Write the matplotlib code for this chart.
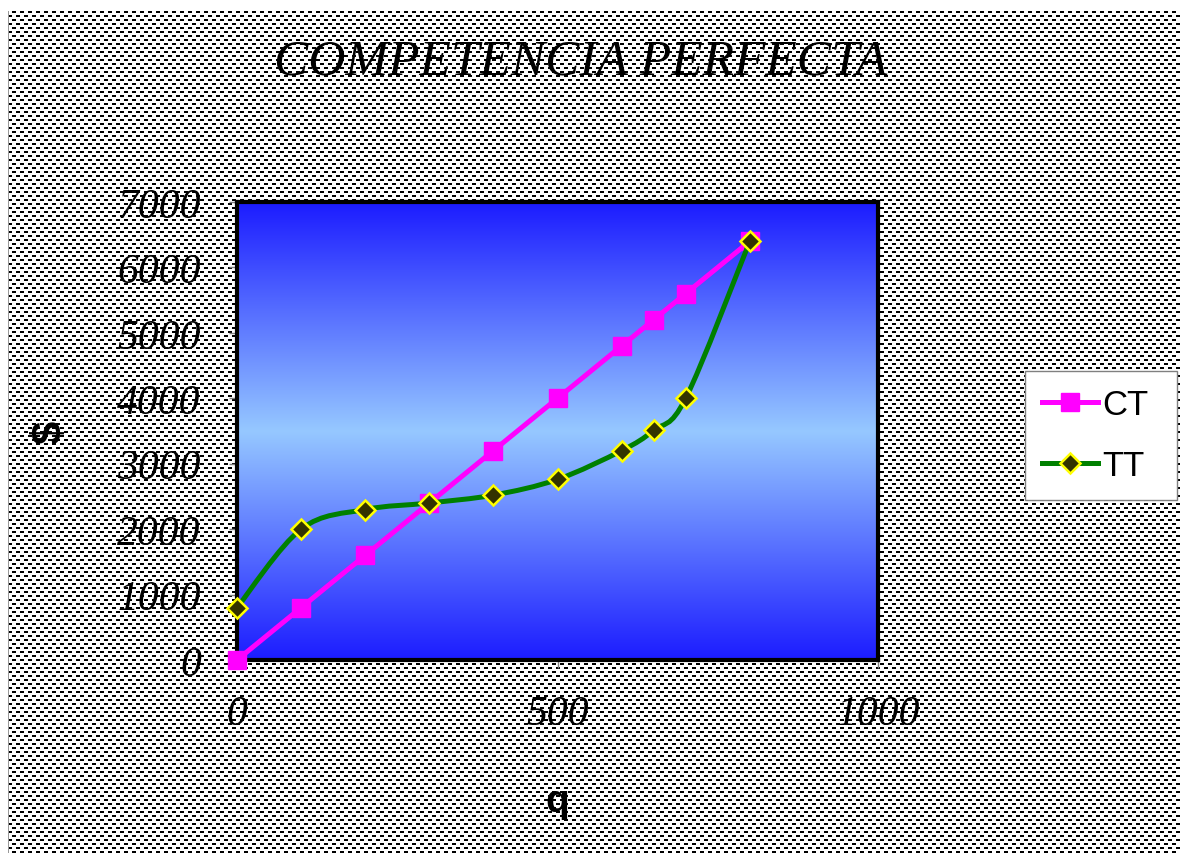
import numpy as np
import matplotlib
matplotlib.use("Agg")
import matplotlib.pyplot as plt
from matplotlib.path import Path
from matplotlib.patches import PathPatch
from matplotlib.lines import Line2D
from matplotlib.colors import LinearSegmentedColormap

# data
q = [0, 100, 200, 300, 400, 500, 600, 650, 700, 800]
ct = [0, 800, 1600, 2400, 3200, 4000, 4800, 5200, 5600, 6400]
tt = [800, 2000, 2300, 2400, 2520, 2760, 3200, 3510, 4000, 6400]
xticks = [0, 500, 1000]
yticks = [0, 1000, 2000, 3000, 4000, 5000, 6000, 7000]

W, H = 1180, 854
fig = plt.figure(figsize=(W / 100, H / 100), dpi=100)
fig.patch.set_facecolor("white")

# dashed texture of the chart area
tile = np.ones((8, 8))
tile[0:2, 0:4] = 0
tile[4:6, 4:8] = 0
bg = np.tile(tile, (H // 8 + 2, W // 8 + 2))[:H, :W]
bg[:12, :] = 1
bg[:, :8] = 1
bg[12:, 8] = 0.6
bg = np.dstack([bg, bg, bg])
fig.figimage(bg, xo=0, yo=0, origin="upper", zorder=-5)

ax = fig.add_axes([237 / W, 1 - 661 / H, (878 - 237) / W, (661 - 203) / H])
ax.set_facecolor("none")
ax.set_xlim(0, 1000)
ax.set_ylim(0, 7000)

# vertical gradient: blue - light blue - blue
cmap = LinearSegmentedColormap.from_list("grad", ["#1c1cff", "#96c8ff", "#1c1cff"])
ax.imshow(np.linspace(0, 1, 256).reshape(-1, 1), cmap=cmap, aspect="auto",
          extent=[0, 1000, 0, 7000], origin="upper", zorder=0)

for s in ax.spines.values():
    s.set_linewidth(3)
    s.set_color("black")

ax.set_xticks(xticks)
ax.set_yticks(yticks)
ax.tick_params(direction="out", length=6, width=1, color="#808080",
               labelsize=30)
ax.tick_params(axis="y", pad=20)
ax.tick_params(axis="x", pad=19)
for lab in ax.get_xticklabels() + ax.get_yticklabels():
    lab.set_fontfamily("Liberation Serif")
    lab.set_fontstyle("italic")

# CT straight line
ax.plot(q, ct, color="#ff00ff", lw=3.6, marker="s", ms=13,
        mec="#ff00ff", mfc="#ff00ff", clip_on=False, zorder=4)

# TT smoothed curve (Excel style bezier through the points)
pts = np.column_stack([q, tt]).astype(float)
ext = np.vstack([pts[0], pts, pts[-1]])
verts = [tuple(pts[0])]
codes = [Path.MOVETO]
for i in range(len(pts) - 1):
    p0, p1, p2, p3 = ext[i], ext[i + 1], ext[i + 2], ext[i + 3]
    c1 = p1 + (p2 - p0) / 6
    c2 = p2 - (p3 - p1) / 6
    verts += [tuple(c1), tuple(c2), tuple(p2)]
    codes += [Path.CURVE4] * 3
ax.add_patch(PathPatch(Path(verts, codes), facecolor="none", edgecolor="#008000",
                       lw=3.6, zorder=5, clip_on=False))
ax.plot(q, tt, linestyle="none", marker="D", ms=10, mfc="#333300",
        mec="#ffff00", mew=1.8, clip_on=False, zorder=6)

fig.text(581 / W, 1 - 62 / H, "COMPETENCIA PERFECTA", ha="center", va="center",
         fontsize=37, family="Liberation Serif", style="italic")
fig.text(50 / W, 1 - 432 / H, "$", rotation=90, ha="center", va="center",
         fontsize=30, fontweight="bold", family="Liberation Sans")
fig.text(557 / W, 1 - 802 / H, "q", ha="center", va="center",
         fontsize=28, fontweight="bold", family="Liberation Sans")

handles = [
    Line2D([], [], color="#ff00ff", lw=3.6, marker="s", ms=13),
    Line2D([], [], color="#008000", lw=3.6, marker="D", ms=10,
           mfc="#333300", mec="#ffff00", mew=1.8),
]
leg = fig.legend(handles, ["CT", "TT"], loc="upper left",
                 bbox_to_anchor=(1025 / W, 1 - 496 / H, 152 / W, 124 / H),
                 mode="expand", fancybox=False,
                 framealpha=1, edgecolor="#808080", handlelength=1.6,
                 prop={"family": "Liberation Sans", "size": 25},
                 borderpad=0.5, labelspacing=0.8, handletextpad=0.12,
                 borderaxespad=0)
leg.get_frame().set_linewidth(1)

fig.savefig("out.png", dpi=100)
